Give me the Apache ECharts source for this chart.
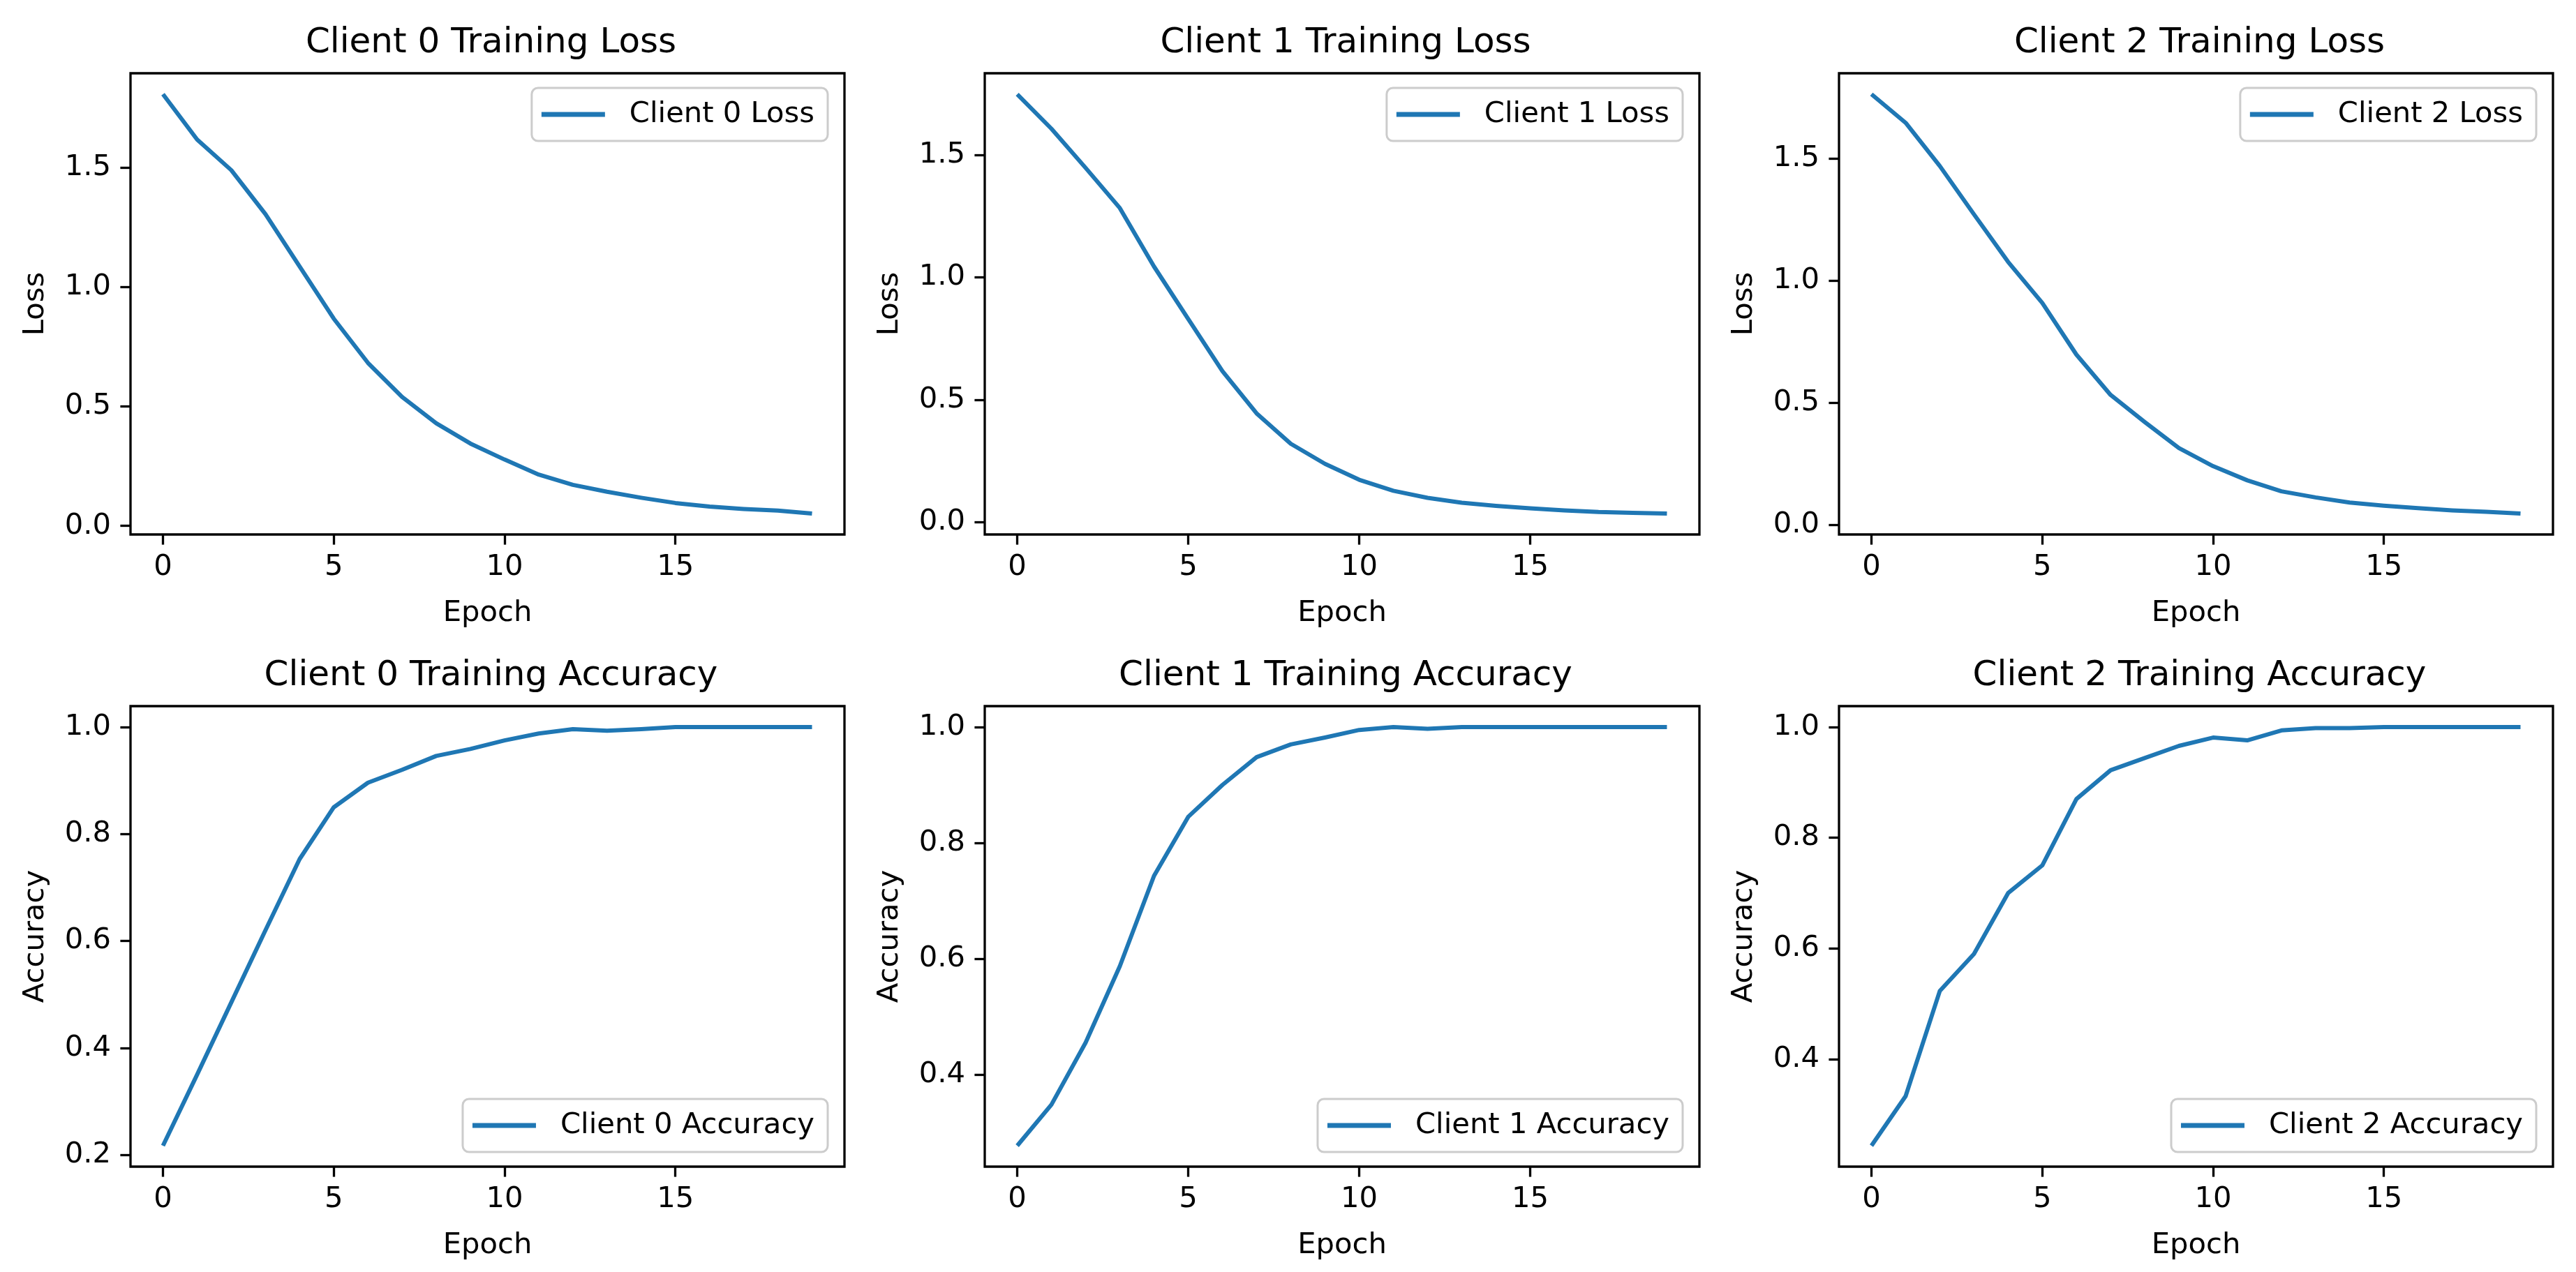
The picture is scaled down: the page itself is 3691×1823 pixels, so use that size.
<!DOCTYPE html>
<html>
<head>
<meta charset="utf-8">
<script src="https://cdn.jsdelivr.net/npm/echarts@6/dist/echarts.min.js"></script>
<style>
html,body{margin:0;padding:0;background:#fff;}
#chart{width:3691px;height:1823px;}
</style>
</head>
<body>
<div id="chart"></div>
<script>
// ---------- data ----------
const epochs = [0,1,2,3,4,5,6,7,8,9,10,11,12,13,14,15,16,17,18,19];

const lossClient0 = [1.808,1.618,1.490,1.306,1.087,0.868,0.683,0.540,0.430,0.345,0.278,0.215,0.172,0.143,0.118,0.096,0.081,0.071,0.064,0.052];
const lossClient1 = [1.748,1.607,1.447,1.283,1.044,0.830,0.617,0.444,0.320,0.238,0.173,0.128,0.099,0.079,0.066,0.056,0.048,0.041,0.038,0.035];
const lossClient2 = [1.764,1.647,1.470,1.272,1.077,0.909,0.697,0.532,0.421,0.314,0.240,0.182,0.137,0.112,0.091,0.078,0.068,0.059,0.053,0.046];

const accClient0 = [0.217,0.350,0.485,0.620,0.753,0.850,0.896,0.920,0.946,0.959,0.975,0.988,0.996,0.993,0.996,1.000,1.000,1.000,1.000,1.000];
const accClient1 = [0.277,0.348,0.455,0.587,0.743,0.845,0.900,0.948,0.970,0.982,0.995,1.000,0.997,1.000,1.000,1.000,1.000,1.000,1.000,1.000];
const accClient2 = [0.2435,0.333,0.523,0.590,0.700,0.750,0.870,0.922,0.944,0.966,0.981,0.976,0.994,0.998,0.998,1.000,1.000,1.000,1.000,1.000];

const epochTicks = [0,5,10,15];
const lossTicks = [0,0.5,1.0,1.5];
const accTicks0 = [0.2,0.4,0.6,0.8,1.0];
const accTicks1 = [0.4,0.6,0.8,1.0];
const accTicks2 = [0.4,0.6,0.8,1.0];

const panels = [
  {title:'Client 0 Training Loss', series:'Client 0 Loss', ylabel:'Loss', values:lossClient0, ticks:lossTicks, legend:'top'},
  {title:'Client 1 Training Loss', series:'Client 1 Loss', ylabel:'Loss', values:lossClient1, ticks:lossTicks, legend:'top'},
  {title:'Client 2 Training Loss', series:'Client 2 Loss', ylabel:'Loss', values:lossClient2, ticks:lossTicks, legend:'top'},
  {title:'Client 0 Training Accuracy', series:'Client 0 Accuracy', ylabel:'Accuracy', values:accClient0, ticks:accTicks0, legend:'bottom'},
  {title:'Client 1 Training Accuracy', series:'Client 1 Accuracy', ylabel:'Accuracy', values:accClient1, ticks:accTicks1, legend:'bottom'},
  {title:'Client 2 Training Accuracy', series:'Client 2 Accuracy', ylabel:'Accuracy', values:accClient2, ticks:accTicks2, legend:'bottom'}
];

// ---------- layout (pixels) ----------
const W = 3691, H = 1823;
const colX = [[187,1210],[1411,2435],[2635,3658]];
const rowY = [[105,766],[1012,1672]];
const FONT = 'DejaVu Sans';
const fs = 41.7, titleFs = 50;
const blue = '#1f77b4';
const lw = 3.3;

const option = {
  backgroundColor:'#fff',
  animation:false,
  textStyle:{fontFamily:FONT, color:'#000'},
  title:[], grid:[], xAxis:[], yAxis:[], series:[], legend:[]
};

panels.forEach((p,i)=>{
  const c = i % 3, r = Math.floor(i/3);
  const [x0,x1] = colX[c], [y0,y1] = rowY[r];
  const vmin = Math.min(...p.values), vmax = Math.max(...p.values);
  const pad = (vmax - vmin) * 0.05;
  const emin = Math.min(...epochs), emax = Math.max(...epochs);
  const xpad = (emax - emin) * 0.05;

  option.grid.push({left:x0, top:y0, width:x1-x0, height:y1-y0, show:true,
    borderColor:'#000', borderWidth:lw, backgroundColor:'#fff', containLabel:false});

  option.title.push({text:p.title, left:(x0+x1)/2, textAlign:'center', top:y0-77,
    textStyle:{fontFamily:FONT, fontSize:titleFs, fontWeight:'normal', color:'#000', lineHeight:58}});

  option.xAxis.push({type:'value', gridIndex:i, min:emin-xpad, max:emax+xpad,
    name:'Epoch', nameLocation:'middle', nameGap:92,
    nameTextStyle:{fontFamily:FONT, fontSize:fs, color:'#000'},
    axisLine:{show:false, onZero:false},
    splitLine:{show:false},
    axisTick:{show:true, inside:false, length:14.6, lineStyle:{color:'#000', width:lw}, customValues:epochTicks},
    axisLabel:{show:true, margin:26, fontFamily:FONT, fontSize:fs, color:'#000', customValues:epochTicks,
      formatter:(v)=>String(Math.round(v))}
  });

  option.yAxis.push({type:'value', gridIndex:i, min:vmin-pad, max:vmax+pad,
    name:p.ylabel, nameLocation:'middle', nameGap:115, nameRotate:90,
    nameTextStyle:{fontFamily:FONT, fontSize:fs, color:'#000'},
    axisLine:{show:false, onZero:false},
    splitLine:{show:false},
    axisTick:{show:true, inside:false, length:14.6, lineStyle:{color:'#000', width:lw}, customValues:p.ticks},
    axisLabel:{show:true, margin:28, fontFamily:FONT, fontSize:fs, color:'#000', customValues:p.ticks,
      formatter:(v)=>Number(v).toFixed(1)}
  });

  option.series.push({type:'line', name:p.series, xAxisIndex:i, yAxisIndex:i,
    data:epochs.map((e,k)=>[e, p.values[k]]), showSymbol:false, symbol:'none',
    lineStyle:{color:blue, width:6, join:'round'}, itemStyle:{color:blue}});

  const lg = {data:[p.series], orient:'horizontal', right:W-(x1-24),
    icon:'rect', itemWidth:91, itemHeight:7,
    padding:[17,19,17,14], backgroundColor:'rgba(255,255,255,0.8)',
    borderColor:'#cccccc', borderWidth:3, borderRadius:9,
    textStyle:{fontFamily:FONT, fontSize:fs, color:'#000', padding:[0,0,0,30]},
    selectedMode:false};
  if (p.legend === 'top') lg.top = y0 + 21; else lg.bottom = H - (y1 - 21);
  option.legend.push(lg);
});

const chart = echarts.init(document.getElementById('chart'), null, {renderer:'canvas'});
chart.setOption(option);
</script>
</body>
</html>
